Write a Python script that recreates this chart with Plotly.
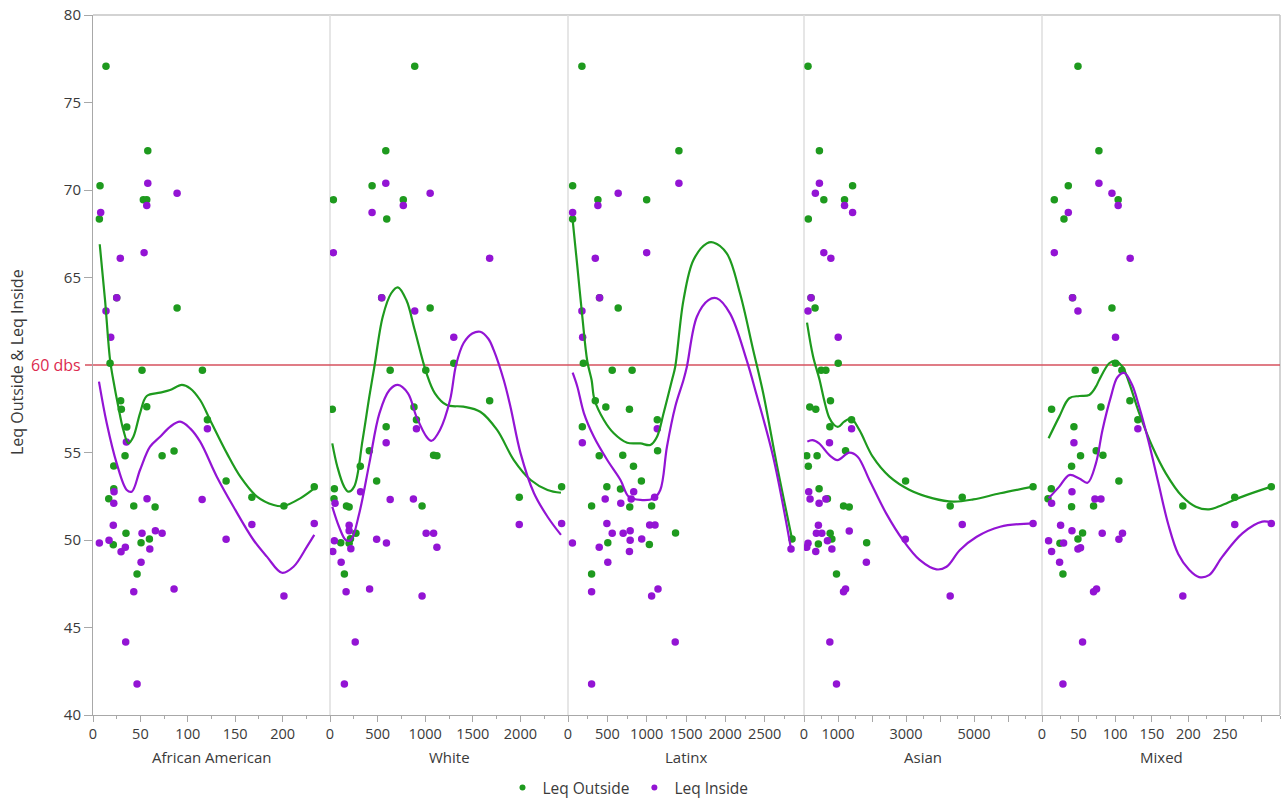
import plotly.graph_objects as go

# ---------------- data: African American ----------------
aa_out_x = [13.7, 7.4, 6.7, 53.1, 56.7, 57.8, 88.7, 25.0, 18.0, 51.7, 115.4, 29.2, 29.9, 56.7, 35.6, 120.7, 33.8,
            72.9, 85.5, 21.9, 21.9, 16.6, 43.0, 65.5, 140.4, 167.6, 201.4, 233.4, 34.8, 21.4, 50.7, 59.5, 46.5]
aa_out_y = [77.07, 70.25, 68.34, 69.45, 69.45, 72.25, 63.26, 63.85, 60.1, 59.7, 59.7, 57.96, 57.47, 57.62, 56.46,
            56.87, 54.82, 54.82, 55.09, 54.23, 52.93, 52.36, 51.94, 51.89, 53.37, 52.44, 51.94, 53.05, 50.38, 49.73,
            49.85, 50.06, 48.06]
aa_in_x = [8.1, 57.8, 88.7, 56.7, 53.9, 28.8, 25.0, 13.7, 18.7, 6.7, 16.9, 21.4, 21.9, 22.2, 29.6, 34.1, 35.2, 43.0,
           34.5, 46.5, 50.7, 51.7, 57.0, 59.9, 65.8, 72.9, 85.5, 115.1, 120.7, 140.4, 167.6, 201.4, 233.4]
aa_in_y = [68.72, 70.38, 69.81, 69.12, 66.42, 66.1, 63.85, 63.09, 61.58, 49.83, 49.98, 50.84, 52.1, 52.76, 49.33,
           49.58, 55.6, 47.05, 44.17, 41.77, 48.73, 50.38, 52.36, 49.49, 50.53, 50.38, 47.2, 52.32, 56.36, 50.04,
           50.89, 46.8, 50.95]
aa_out_fit_x = [7.1, 12.7, 18.0, 21.4, 26.7, 32.0, 37.3, 42.6, 49.6, 56.7, 70.8, 81.3, 93.7, 102.4, 113.0, 123.5,
                141.3, 155.4, 173.0, 190.6, 201.0, 218.6, 233.4]
aa_out_fit_y = [66.9, 63.71, 60.29, 59.14, 57.62, 56.29, 55.52, 55.9, 57.24, 58.23, 58.42, 58.57, 58.86, 58.67, 58.0,
                56.86, 54.95, 53.62, 52.48, 52.0, 51.94, 52.38, 52.95]
aa_in_fit_x = [6.3, 14.5, 25.0, 35.6, 40.9, 49.6, 60.2, 70.8, 81.3, 91.9, 102.4, 113.0, 130.6, 148.2, 169.3, 183.4,
               199.3, 211.5, 225.7, 233.4]
aa_in_fit_y = [59.05, 56.67, 54.38, 52.86, 52.76, 54.0, 55.33, 55.9, 56.47, 56.76, 56.38, 55.62, 53.62, 51.9, 50.0,
               49.05, 48.13, 48.47, 49.62, 50.29]

# ---------------- data: White ----------------
wh_out_x = [890, 586, 442, 35, 770, 596, 543, 1052, 632, 1006, 1300, 24, 590, 882, 908, 1677, 413, 318, 490, 1088,
            1123, 46, 42, 173, 201, 967, 1988, 2433, 113, 215, 272, 201, 151]
wh_out_y = [77.07, 72.25, 70.25, 69.45, 69.45, 68.34, 63.85, 63.26, 59.7, 59.7, 60.1, 57.47, 56.47, 57.6, 56.87,
            57.96, 55.1, 54.21, 53.37, 54.84, 54.82, 52.93, 52.36, 51.94, 51.89, 51.94, 52.44, 53.05, 49.85, 50.07,
            50.38, 49.81, 48.06]
wh_in_x = [586, 442, 770, 1052, 35, 1677, 543, 890, 1300, 590, 908, 321, 53, 632, 876, 201, 201, 46, 29, 219, 117,
           490, 593, 1010, 1088, 1123, 1988, 2433, 169, 416, 967, 265, 151]
wh_in_y = [70.38, 68.72, 69.12, 69.81, 66.42, 66.1, 63.85, 63.09, 61.58, 55.56, 56.36, 52.76, 52.1, 52.32, 52.34,
           50.84, 50.53, 49.96, 49.35, 49.5, 48.73, 50.04, 49.83, 50.38, 50.38, 49.58, 50.89, 50.95, 47.05, 47.2,
           46.8, 44.17, 41.77]
wh_out_fit_x = [24, 77, 148, 194, 254, 342, 413, 466, 554, 643, 713, 802, 890, 1014, 1102, 1226, 1401, 1578, 1755,
                1931, 2108, 2285, 2426]
wh_out_fit_y = [55.52, 54.19, 53.05, 52.76, 53.05, 55.71, 58.19, 59.9, 62.76, 64.1, 64.44, 63.71, 62.0, 59.52, 58.38,
                57.71, 57.62, 57.33, 56.29, 54.57, 53.43, 52.86, 52.70]
wh_in_fit_x = [24, 95, 166, 219, 307, 413, 519, 625, 713, 819, 908, 1014, 1067, 1155, 1261, 1324, 1402, 1494, 1578,
               1663, 1719, 1825, 1896, 2002, 2143, 2285, 2426]
wh_in_fit_y = [51.9, 50.76, 50.0, 50.0, 51.52, 54.38, 57.24, 58.57, 58.86, 58.38, 57.05, 55.9, 55.67, 56.29, 58.0,
               60.0, 61.24, 61.8, 61.9, 61.5, 60.86, 59.14, 57.6, 54.95, 52.67, 51.33, 50.29]

# ---------------- data: Latinx ----------------
lx_out_x = [177, 59, 380, 1000, 59, 1410, 401, 638, 195, 562, 815, 347, 481, 781, 1135, 182, 397, 696, 1139, 832,
            933, 494, 667, 300, 785, 1063, 1367, 506, 1034, 300, 2848]
lx_out_y = [77.07, 70.25, 69.45, 69.45, 68.34, 72.25, 63.85, 63.26, 60.1, 59.7, 59.7, 57.96, 57.6, 57.47, 56.87,
            56.47, 54.82, 54.84, 55.1, 54.21, 53.37, 53.05, 52.91, 51.94, 51.89, 51.94, 50.4, 49.85, 49.75, 48.06,
            50.06]
lx_in_x = [59, 380, 638, 1410, 347, 1000, 401, 177, 186, 182, 1135, 835, 473, 671, 803, 1101, 494, 1038, 1106, 562,
           701, 790, 790, 937, 56, 397, 781, 506, 300, 1063, 1144, 1363, 300, 2835]
lx_in_y = [68.72, 69.12, 69.81, 70.38, 66.1, 66.42, 63.85, 63.09, 61.58, 55.56, 56.36, 52.76, 52.34, 52.1, 52.34,
           52.44, 50.95, 50.86, 50.86, 50.38, 50.38, 50.53, 49.98, 50.06, 49.83, 49.58, 49.35, 48.73, 47.05, 46.8,
           47.2, 44.17, 41.77, 49.49]
lx_out_fit_x = [59, 119, 182, 246, 300, 338, 456, 582, 752, 920, 1047, 1132, 1215, 1322, 1363, 1468, 1595, 1765,
                1848, 2018, 2186, 2354, 2481, 2651, 2848]
lx_out_fit_y = [68.29, 65.62, 62.76, 60.2, 59.14, 58.0, 56.86, 56.1, 55.56, 55.52, 55.43, 55.9, 57.24, 59.14, 59.9,
                63.71, 66.0, 66.95, 67.0, 66.38, 64.1, 60.86, 58.4, 54.38, 50.06]
lx_in_fit_x = [59, 119, 203, 329, 499, 667, 772, 920, 1089, 1173, 1258, 1363, 1468, 1511, 1638, 1785, 1891, 2059,
               2270, 2397, 2608, 2835]
lx_in_fit_y = [59.56, 58.76, 57.24, 55.9, 54.57, 53.43, 52.48, 52.29, 52.38, 52.86, 55.33, 57.62, 59.14, 59.9, 62.76,
               63.71, 63.81, 62.95, 60.29, 58.3, 54.76, 49.49]

# ---------------- data: Asian ----------------
as_out_x = [118, 453, 1429, 583, 1192, 127, 207, 325, 1006, 503, 642, 778, 169, 346, 760, 1399, 80, 385, 1222, 127,
            2988, 444, 689, 1163, 1331, 4299, 4654, 6737, 769, 820, 423, 1843, 956]
as_out_y = [77.07, 72.25, 70.25, 69.45, 69.45, 68.34, 63.85, 63.26, 60.1, 59.7, 59.7, 57.96, 57.6, 57.47, 56.47,
            56.87, 54.82, 54.82, 55.1, 54.21, 53.37, 52.93, 52.36, 51.94, 51.89, 51.94, 52.44, 53.05, 50.38, 50.06,
            49.77, 49.85, 48.06]
as_in_x = [453, 334, 1192, 1429, 583, 790, 207, 118, 1006, 1399, 749, 139, 178, 444, 642, 423, 364, 524, 1331, 689,
           118, 80, 346, 820, 2979, 4654, 6737, 1834, 1163, 1222, 4299, 760, 956]
as_in_y = [70.38, 69.81, 69.12, 68.72, 66.42, 66.1, 63.85, 63.09, 61.58, 56.36, 55.56, 52.76, 52.34, 52.1, 52.34,
           50.84, 50.38, 50.38, 50.51, 49.96, 49.81, 49.58, 49.35, 49.49, 50.04, 50.89, 50.95, 48.73, 47.05, 47.2,
           46.8, 44.17, 41.77]
as_out_fit_x = [89, 266, 459, 592, 740, 888, 1006, 1183, 1382, 1627, 2021, 2515, 3107, 3796, 4388, 4979, 5769, 6737]
as_out_fit_y = [62.42, 60.5, 59.14, 58.0, 57.0, 56.57, 56.47, 56.76, 56.95, 56.29, 54.76, 53.62, 52.86, 52.38, 52.19,
                52.32, 52.67, 53.05]
as_in_fit_x = [98, 246, 444, 740, 985, 1331, 1577, 1923, 2417, 2908, 3402, 3896, 4192, 4586, 5080, 5769, 6737]
as_in_fit_y = [55.62, 55.71, 55.52, 54.86, 54.57, 54.99, 54.76, 53.43, 51.52, 50.0, 48.86, 48.32, 48.47, 49.43, 50.19,
               50.76, 50.95]

# ---------------- data: Mixed ----------------
mx_out_x = [49.1, 77.7, 35.9, 16.8, 104, 30, 41.7, 95.5, 100.4, 72.7, 109.1, 120, 80.5, 13.1, 43.6, 130.9, 52.6,
            83.2, 74, 40.4, 105, 12.7, 8.2, 40.4, 70.4, 192.3, 263.2, 313.1, 55.4, 49.1, 24.5, 28.6]
mx_out_y = [77.07, 72.25, 70.25, 69.45, 69.45, 68.34, 63.85, 63.26, 60.1, 59.7, 59.7, 57.96, 57.6, 57.47, 56.47,
            56.87, 54.82, 54.84, 55.1, 54.21, 53.37, 52.93, 52.36, 51.9, 51.94, 51.94, 52.44, 53.05, 50.4, 50.06,
            49.81, 48.06]
mx_in_x = [77.7, 95.5, 35.9, 104, 16.8, 120.4, 41.7, 49.1, 100.4, 43.6, 130.9, 40.9, 13.1, 72.3, 80.5, 25.4, 40.9,
           29.5, 9, 13.1, 24, 49.1, 52.6, 82.2, 105, 109.9, 263.2, 313.1, 70.4, 74.5, 192.3, 55.4, 28.6]
mx_in_y = [70.38, 69.81, 68.72, 69.12, 66.42, 66.1, 63.85, 63.09, 61.58, 55.56, 56.36, 52.76, 52.1, 52.34, 52.34,
           50.84, 50.53, 49.83, 49.96, 49.35, 48.73, 49.49, 49.56, 50.38, 50.04, 50.38, 50.89, 50.95, 47.05, 47.2,
           46.8, 44.17, 41.77]
mx_out_fit_x = [9, 23.6, 37.2, 50.9, 64.5, 73.6, 78.1, 91.8, 100, 109.9, 119.2, 132.8, 150.8, 169.1, 191.7, 210,
                228.1, 246.3, 273.6, 313.1]
mx_out_fit_y = [55.81, 57.05, 58.1, 58.23, 58.29, 58.76, 59.14, 60.1, 60.23, 59.9, 58.95, 57.24, 55.33, 53.81, 52.48,
                51.9, 51.75, 52.0, 52.48, 53.05]
mx_in_fit_x = [9, 23.6, 37.2, 50.9, 62.2, 73.6, 82.6, 94.1, 103.0, 112.2, 122.7, 132.8, 145.1, 158.7, 172.4, 186.0,
               200.9, 214.5, 228.1, 246.3, 273.6, 300.8, 313.1]
mx_in_fit_y = [52.38, 53.05, 53.71, 53.52, 53.27, 54.38, 56.29, 58.19, 59.3, 59.55, 58.9, 57.6, 55.7, 53.3, 50.9,
               49.2, 48.3, 47.88, 47.99, 49.05, 50.38, 51.05, 50.99]

# ---------------- axis labels ----------------
group_names = ["African American", "White", "Latinx", "Asian", "Mixed"]
series_names = ["Leq Outside", "Leq Inside"]
y_ticks = [40, 45, 50, 55, 65, 70, 75, 80]
threshold = 60

# ---------------- styling / layout ----------------
GREEN = "#1E9A1E"
PURPLE = "#9314D4"
RED_LINE = "#D6505E"
RED_TEXT = "#DC2A4E"
AXIS_GRAY = "#A8A8A8"
DIVIDER = "#DEDEDE"
TEXT = "#3A3A3A"
FONT = "Segoe UI, Open Sans, Noto Sans, sans-serif"

W, H = 1285, 801
L, R, T, B = 93, 5, 15, 86
PW, PH = W - L - R, H - T - B
edges_px = [93, 330, 568, 804, 1042, 1280]
domains = [((edges_px[i] - L) / PW, (edges_px[i + 1] - L) / PW) for i in range(5)]


def px_to_paper_x(px):
    return (px - L) / PW


def px_to_paper_y(py):
    return (H - B - py) / PH


panels = [
    dict(ox=aa_out_x, oy=aa_out_y, ix=aa_in_x, iy=aa_in_y,
         ofx=aa_out_fit_x, ofy=aa_out_fit_y, ifx=aa_in_fit_x, ify=aa_in_fit_y,
         rng=[0, 250], major=[0, 50, 100, 150, 200], labels=None, minor_step=25),
    dict(ox=wh_out_x, oy=wh_out_y, ix=wh_in_x, iy=wh_in_y,
         ofx=wh_out_fit_x, ofy=wh_out_fit_y, ifx=wh_in_fit_x, ify=wh_in_fit_y,
         rng=[0, 2500], major=[0, 500, 1000, 1500, 2000], labels=None, minor_step=250),
    dict(ox=lx_out_x, oy=lx_out_y, ix=lx_in_x, iy=lx_in_y,
         ofx=lx_out_fit_x, ofy=lx_out_fit_y, ifx=lx_in_fit_x, ify=lx_in_fit_y,
         rng=[0, 3000], major=[0, 500, 1000, 1500, 2000, 2500], labels=None, minor_step=250),
    dict(ox=as_out_x, oy=as_out_y, ix=as_in_x, iy=as_in_y,
         ofx=as_out_fit_x, ofy=as_out_fit_y, ifx=as_in_fit_x, ify=as_in_fit_y,
         rng=[0, 7000], major=[0, 1000, 2000, 3000, 4000, 5000, 6000],
         labels=["0", "1000", "", "3000", "", "5000", ""], minor_step=500),
    dict(ox=mx_out_x, oy=mx_out_y, ix=mx_in_x, iy=mx_in_y,
         ofx=mx_out_fit_x, ofy=mx_out_fit_y, ifx=mx_in_fit_x, ify=mx_in_fit_y,
         rng=[0, 325], major=[0, 50, 100, 150, 200, 250, 300],
         labels=["0", "50", "100", "150", "200", "250", ""], minor_step=25),
]

fig = go.Figure()

for k, p in enumerate(panels):
    xa = "x" if k == 0 else f"x{k + 1}"
    fig.add_trace(go.Scatter(x=p["ox"], y=p["oy"], mode="markers", xaxis=xa, yaxis="y",
                             marker=dict(color=GREEN, size=7.5), name=series_names[0],
                             legendgroup="out", showlegend=False, hoverinfo="x+y"))
    fig.add_trace(go.Scatter(x=p["ix"], y=p["iy"], mode="markers", xaxis=xa, yaxis="y",
                             marker=dict(color=PURPLE, size=7.5), name=series_names[1],
                             legendgroup="in", showlegend=False, hoverinfo="x+y"))
    fig.add_trace(go.Scatter(x=p["ofx"], y=p["ofy"], mode="lines", xaxis=xa, yaxis="y",
                             line=dict(color=GREEN, width=2.2, shape="spline", smoothing=1.0),
                             legendgroup="out", showlegend=False, hoverinfo="skip"))
    fig.add_trace(go.Scatter(x=p["ifx"], y=p["ify"], mode="lines", xaxis=xa, yaxis="y",
                             line=dict(color=PURPLE, width=2.2, shape="spline", smoothing=1.0),
                             legendgroup="in", showlegend=False, hoverinfo="skip"))

    lo, hi = p["rng"]
    minor_vals = [v for v in range(lo, hi + 1, p["minor_step"]) if v not in p["major"]]
    axis = dict(
        domain=list(domains[k]), anchor="y", range=p["rng"],
        tickmode="array", tickvals=p["major"],
        ticktext=p["labels"] if p["labels"] else [str(v) for v in p["major"]],
        ticks="outside", ticklen=6, tickwidth=1, tickcolor=AXIS_GRAY,
        minor=dict(tickmode="array", tickvals=minor_vals, ticks="outside", ticklen=3,
                   tickcolor=AXIS_GRAY, tickwidth=1, showgrid=False),
        showline=True, linecolor=AXIS_GRAY, linewidth=1, mirror=False,
        showgrid=False, zeroline=False, fixedrange=True, automargin=False,
        tickfont=dict(family=FONT, size=14.5, color=TEXT),
    )
    fig.update_layout(**{("xaxis" if k == 0 else f"xaxis{k + 1}"): axis})

# legend entries (smaller dots than the plotted markers)
for name, color, grp in [(series_names[0], GREEN, "out"), (series_names[1], PURPLE, "in")]:
    fig.add_trace(go.Scatter(x=[None], y=[None], mode="markers", xaxis="x", yaxis="y",
                             marker=dict(color=color, size=6), name=name, legendgroup=grp,
                             showlegend=True, hoverinfo="skip"))

fig.update_layout(
    yaxis=dict(
        domain=[0, 1], anchor="x", range=[40, 80],
        tickmode="array", tickvals=y_ticks, ticktext=[str(v) for v in y_ticks],
        ticks="outside", ticklen=8, tickwidth=1, tickcolor=AXIS_GRAY,
        showline=True, linecolor=AXIS_GRAY, linewidth=1,
        showgrid=False, zeroline=False, fixedrange=True, automargin=False,
        tickfont=dict(family=FONT, size=15, color=TEXT),
    )
)

shapes = []
# outer frame (top and right)
shapes.append(dict(type="line", xref="paper", yref="paper", x0=0, x1=1, y0=1, y1=1,
                   line=dict(color="#C4C4C4", width=1.5), layer="below"))
shapes.append(dict(type="line", xref="paper", yref="paper", x0=1, x1=1, y0=0, y1=1,
                   line=dict(color="#C4C4C4", width=1.5), layer="below"))
# panel dividers
for e in edges_px[1:-1]:
    xp = px_to_paper_x(e)
    shapes.append(dict(type="line", xref="paper", yref="paper", x0=xp, x1=xp, y0=0, y1=1,
                       line=dict(color=DIVIDER, width=1.5), layer="below"))
# threshold reference line
shapes.append(dict(type="line", xref="paper", yref="y", x0=px_to_paper_x(85), x1=1,
                   y0=threshold, y1=threshold, line=dict(color=RED_LINE, width=1.5), layer="below"))

annotations = []
annotations.append(dict(text=f"{threshold} dbs", xref="paper", yref="y", x=px_to_paper_x(83), y=threshold,
                        xanchor="right", yanchor="middle", showarrow=False,
                        font=dict(family=FONT, size=16, color=RED_TEXT)))
annotations.append(dict(text="Leq Outside & Leq Inside", xref="paper", yref="paper",
                        x=px_to_paper_x(17), y=px_to_paper_y(362), textangle=-90, xanchor="center",
                        yanchor="middle", showarrow=False, font=dict(family=FONT, size=16, color=TEXT)))
for k, name in enumerate(group_names):
    cx = (domains[k][0] + domains[k][1]) / 2
    annotations.append(dict(text=name, xref="paper", yref="paper", x=cx, y=px_to_paper_y(757),
                            xanchor="center", yanchor="middle", showarrow=False,
                            font=dict(family=FONT, size=15, color=TEXT)))

fig.update_layout(
    width=W, height=H,
    margin=dict(l=L, r=R, t=T, b=B, autoexpand=False),
    paper_bgcolor="white", plot_bgcolor="white",
    shapes=shapes, annotations=annotations,
    showlegend=True,
    legend=dict(orientation="h", x=px_to_paper_x(628), xanchor="center",
                yref="container", y=1 - 788 / H, yanchor="middle",
                font=dict(family=FONT, size=15.5, color=TEXT),
                itemwidth=30, tracegroupgap=0, bgcolor="rgba(0,0,0,0)"),
    font=dict(family=FONT, size=14, color=TEXT),
)

fig.write_html("out.html")
